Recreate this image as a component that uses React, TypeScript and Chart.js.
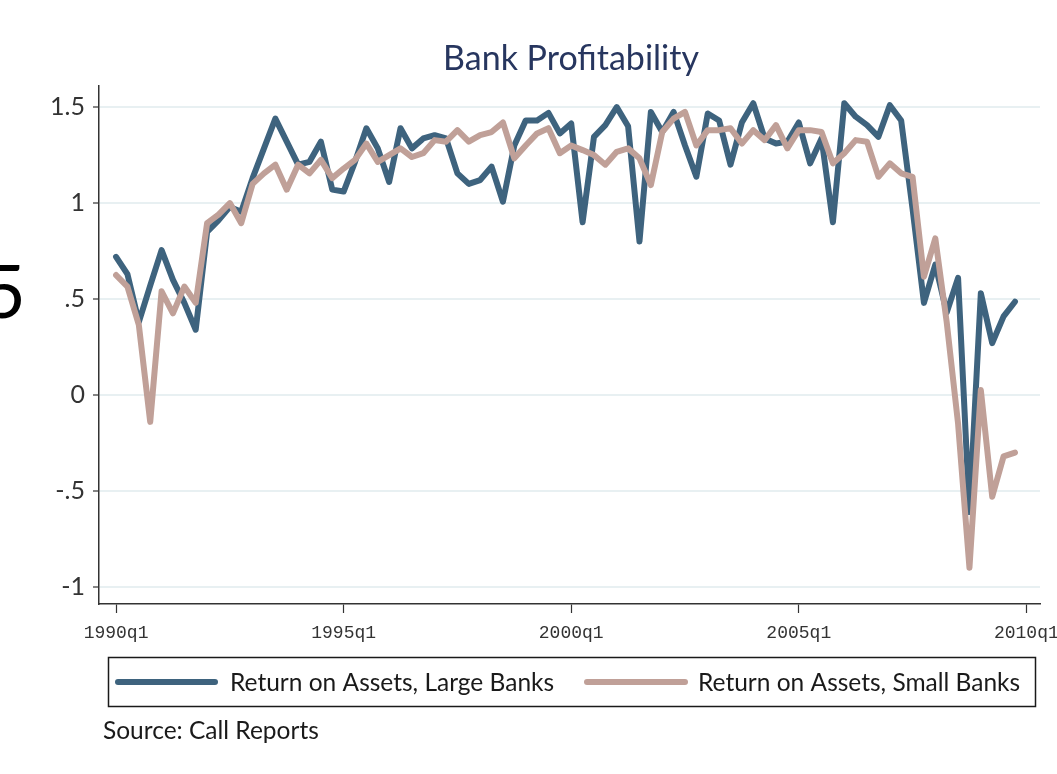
import React, { useEffect, useRef } from 'react';
import { Chart, registerables } from 'chart.js';

Chart.register(...registerables);

// Quarterly categories 1990q1 .. 2009q4
const quarters: string[] = [];
for (let y = 1990; y <= 2009; y++) {
  for (let q = 1; q <= 4; q++) quarters.push(`${y}q${q}`);
}

const largeBanks: number[] = [
  0.72, 0.63, 0.38, 0.57, 0.755, 0.6, 0.48, 0.34, 0.85, 0.91,
  0.98, 0.955, 1.13, 1.285, 1.44, 1.32, 1.2, 1.215, 1.32, 1.07,
  1.06, 1.215, 1.39, 1.285, 1.11, 1.39, 1.285, 1.337, 1.354, 1.337,
  1.155, 1.1, 1.12, 1.19, 1.007, 1.3, 1.43, 1.43, 1.47, 1.363,
  1.415, 0.9, 1.345, 1.406, 1.5, 1.4, 0.8, 1.475, 1.37, 1.475,
  1.3, 1.137, 1.467, 1.43, 1.2, 1.42, 1.52, 1.337, 1.31, 1.32,
  1.42, 1.207, 1.337, 0.9, 1.52, 1.45, 1.406, 1.345, 1.51, 1.43,
  0.97, 0.48, 0.68, 0.43, 0.61, -0.61, 0.53, 0.27, 0.41, 0.486,
];

const smallBanks: number[] = [
  0.625, 0.565, 0.365, -0.14, 0.54, 0.425, 0.565, 0.48, 0.895, 0.94,
  1.0, 0.895, 1.1, 1.155, 1.2, 1.07, 1.2, 1.155, 1.225, 1.13,
  1.18, 1.225, 1.31, 1.215, 1.25, 1.285, 1.24, 1.26, 1.328, 1.32,
  1.38, 1.32, 1.354, 1.37, 1.42, 1.233, 1.3, 1.363, 1.39, 1.26,
  1.3, 1.276, 1.25, 1.2, 1.267, 1.285, 1.233, 1.094, 1.37, 1.44,
  1.475, 1.3, 1.38, 1.38, 1.39, 1.31, 1.38, 1.328, 1.406, 1.285,
  1.38, 1.38, 1.37, 1.207, 1.26, 1.328, 1.32, 1.137, 1.207, 1.155,
  1.137, 0.616, 0.816, 0.38, -0.15, -0.9, 0.026, -0.53, -0.32, -0.3,
];

const seriesLabels = ['Return on Assets, Large Banks', 'Return on Assets, Small Banks'];
const seriesColors = ['#3e637e', '#c0a098'];

const xTickPositions = [0, 20, 40, 60, 80];
const xTickLabels = ['1990q1', '1995q1', '2000q1', '2005q1', '2010q1'];
const yTickValues = [-1, -0.5, 0, 0.5, 1, 1.5];
const yTickLabels = ['-1', '-.5', '0', '.5', '1', '1.5'];

const titleText = 'Bank Profitability';
const sourceText = 'Source: Call Reports';
const strayText = '5';

const overlayPlugin = {
  id: 'overlay',
  afterDraw(chart: any) {
    const ctx = chart.ctx as CanvasRenderingContext2D;
    ctx.save();
    // Title
    ctx.fillStyle = '#27365f';
    ctx.font = '34px Lato';
    ctx.textAlign = 'center';
    ctx.textBaseline = 'alphabetic';
    ctx.fillText(titleText, 571, 70);

    // stray large glyph at left edge
    ctx.fillStyle = '#000';
    ctx.font = '74px Lato';
    ctx.textAlign = 'right';
    ctx.fillText(strayText, 26, 318);

    // Legend box
    ctx.strokeStyle = '#1a1a1a';
    ctx.lineWidth = 1.5;
    ctx.strokeRect(108.5, 657.5, 927, 49);
    const items = [
      { x0: 118, x1: 215, tx: 230 },
      { x0: 587, x1: 685, tx: 698 },
    ];
    ctx.font = '24.5px Lato';
    ctx.textAlign = 'left';
    ctx.textBaseline = 'middle';
    items.forEach((it, i) => {
      ctx.strokeStyle = seriesColors[i];
      ctx.lineWidth = 6;
      ctx.lineCap = 'round';
      ctx.beginPath();
      ctx.moveTo(it.x0, 682);
      ctx.lineTo(it.x1, 682);
      ctx.stroke();
      ctx.fillStyle = '#1a1a1a';
      ctx.fillText(seriesLabels[i], it.tx, 683);
    });

    // Source note
    ctx.fillStyle = '#1a1a1a';
    ctx.font = '24.5px Lato';
    ctx.textBaseline = 'middle';
    ctx.fillText(sourceText, 103, 731);
    ctx.restore();
  },
};

export default function App() {
  const ref = useRef<HTMLCanvasElement | null>(null);

  useEffect(() => {
    document.body.style.margin = '0';
    const canvas = ref.current;
    if (!canvas) return;
    const chart = new Chart(canvas, {
      type: 'line',
      data: {
        labels: quarters,
        datasets: [
          {
            label: seriesLabels[0],
            data: largeBanks.map((v, i) => ({ x: i, y: v })),
            borderColor: seriesColors[0],
            borderWidth: 6,
            pointRadius: 0,
            tension: 0,
            borderJoinStyle: 'round',
            borderCapStyle: 'round',
            fill: false,
            order: 2,
          },
          {
            label: seriesLabels[1],
            data: smallBanks.map((v, i) => ({ x: i, y: v })),
            borderColor: seriesColors[1],
            borderWidth: 6,
            pointRadius: 0,
            tension: 0,
            borderJoinStyle: 'round',
            borderCapStyle: 'round',
            fill: false,
            order: 1,
          },
        ],
      },
      options: {
        responsive: false,
        animation: false,
        devicePixelRatio: 1,
        layout: { padding: { left: 0, top: 86, right: 17, bottom: 0 } },
        plugins: {
          legend: { display: false },
          title: { display: false },
          tooltip: { enabled: false },
        },
        scales: {
          x: {
            type: 'linear',
            min: -1.5,
            max: 81.2,
            afterBuildTicks: (scale: any) => {
              scale.ticks = xTickPositions.map((v) => ({ value: v }));
            },
            afterFit: (scale: any) => {
              scale.height = 170;
              scale.paddingLeft = 0;
              scale.paddingRight = 0;
            },
            ticks: {
              autoSkip: false,
              maxRotation: 0,
              padding: 9,
              color: '#333',
              font: { family: 'Liberation Mono', size: 18 },
              callback: (value: any) => {
                const idx = xTickPositions.indexOf(Number(value));
                return idx >= 0 ? xTickLabels[idx] : '';
              },
            },
            grid: {
              drawOnChartArea: false,
              drawTicks: true,
              tickLength: 9,
              tickColor: '#333',
              tickWidth: 1.2,
            },
            border: { display: true, color: '#333', width: 1.5 },
          },
          y: {
            type: 'linear',
            min: -1.089,
            max: 1.61,
            afterBuildTicks: (scale: any) => {
              scale.ticks = yTickValues.map((v) => ({ value: v }));
            },
            afterFit: (scale: any) => {
              scale.width = 99;
              scale.paddingTop = 0;
              scale.paddingBottom = 0;
            },
            ticks: {
              padding: 8,
              color: '#333',
              font: { family: 'Lato', size: 25 },
              callback: (value: any) => {
                const idx = yTickValues.indexOf(Number(value));
                return idx >= 0 ? yTickLabels[idx] : '';
              },
            },
            grid: {
              color: '#e8f0f2',
              lineWidth: 2,
              drawTicks: true,
              tickLength: 6,
              tickColor: '#333',
              tickWidth: 1.2,
            },
            border: { display: true, color: '#333', width: 1.5 },
          },
        },
      },
      plugins: [overlayPlugin],
    } as any);
    return () => chart.destroy();
  }, []);

  return (
    <div style={{ width: 1057, height: 774, position: 'relative', background: '#fff' }}>
      <canvas ref={ref} width={1057} height={774} style={{ display: 'block', width: 1057, height: 774 }} />
    </div>
  );
}
